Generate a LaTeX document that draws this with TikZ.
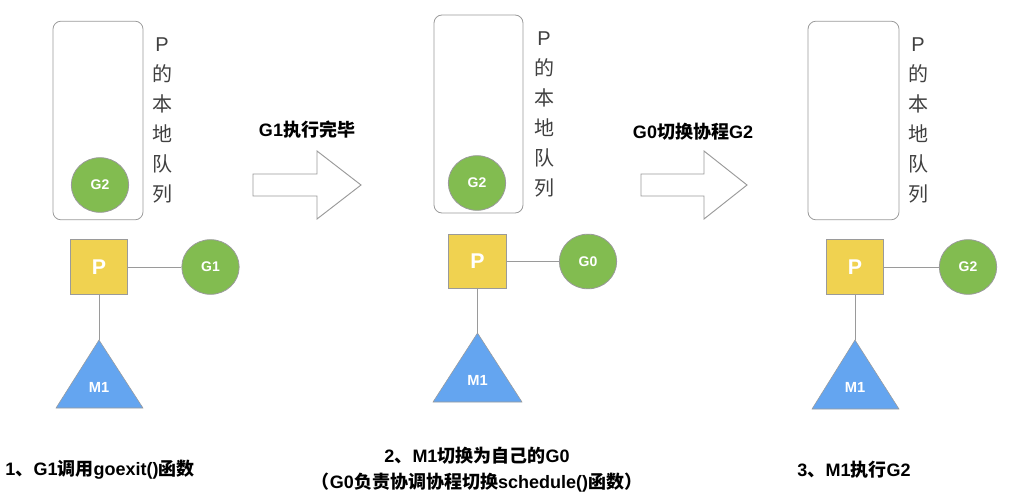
\documentclass[tikz,border=0pt]{standalone}
\usepackage{fontspec}
\setmainfont{Liberation Sans}
\newfontfamily\cjk{Noto Sans CJK SC}
\usetikzlibrary{shapes.geometric}
\definecolor{gnc}{HTML}{82BC50}
\definecolor{pyel}{HTML}{F0D250}
\definecolor{mblue}{HTML}{64A5F0}
\definecolor{edge}{HTML}{9A9A9A}
\begin{document}
\begin{tikzpicture}[x=0.75pt,y=-0.75pt,
  queue/.style={draw=edge, rounded corners=6pt, minimum width=67.5pt, minimum height=149pt, line width=0.6pt, inner sep=0pt},
  gor/.style={ellipse, draw=edge, fill=gnc, minimum width=43pt, minimum height=41pt, inner sep=0pt, text=white, font=\bfseries\fontsize{10.5}{12}\selectfont, line width=0.6pt},
  proc/.style={rectangle, draw=edge, fill=pyel, minimum width=43pt, minimum height=41pt, inner sep=0pt, text=white, font=\bfseries\fontsize{16}{18}\selectfont, line width=0.6pt},
  link/.style={draw=edge, line width=0.7pt},
  mtri/.style={fill=mblue, draw=edge, line width=0.4pt},
  mlabel/.style={text=white, font=\bfseries\fontsize{11}{13}\selectfont},
  bigarrow/.style={draw=edge, fill=white, line width=0.7pt},
  vlabel/.style={align=center, text=black!75, inner sep=0pt, font=\fontsize{15}{22.5}\selectfont},
  caption/.style={align=center, inner sep=0pt, font=\bfseries\fontsize{13.5}{19.5}\selectfont}
]
\useasboundingbox (0,0) rectangle (1010,496);

% ---------- panel 1 ----------
\node[queue] (q1) at (98,120.5) {};
\node[gor] (q1g2) at (100,185) {G2};
\node[vlabel] (v1) at (162,120) {P\\{\cjk 的}\\{\cjk 本}\\{\cjk 地}\\{\cjk 队}\\{\cjk 列}};
\node[proc] (p1) at (99,267) {P};
\node[gor] (g1) at (210.5,267) {G1};
\draw[mtri] (56,408) -- (99,340) -- (143,408) -- cycle;
\coordinate (a1) at (99,340);
\node[mlabel] (m1a) at (99,387) {M1};
\draw[link] (p1) -- (g1);
\draw[link] (p1) -- (a1);

% ---------- arrow 1 ----------
\node[caption] (l1) at (307,130) {G1{\cjk 执行完毕}};
\draw[bigarrow] (253,174) -- (317,174) -- (317,151) -- (361,185) -- (317,219) -- (317,196) -- (253,196) -- cycle;

% ---------- panel 2 ----------
\node[queue, minimum width=66.75pt, minimum height=148.5pt] (q2) at (478.5,114) {};
\node[gor] (q2g2) at (477,183) {G2};
\node[vlabel] (v2) at (544,114) {P\\{\cjk 的}\\{\cjk 本}\\{\cjk 地}\\{\cjk 队}\\{\cjk 列}};
\node[proc] (p2) at (477.5,261.5) {P};
\node[gor] (g0) at (588,261.5) {G0};
\draw[mtri] (433,402) -- (477.5,333) -- (522,402) -- cycle;
\coordinate (a2) at (477.5,333);
\node[mlabel] (m1b) at (477.5,380) {M1};
\draw[link] (p2) -- (g0);
\draw[link] (p2) -- (a2);

% ---------- arrow 2 ----------
\node[caption] (l2) at (693,132) {G0{\cjk 切换协程}G2};
\draw[bigarrow] (641,174) -- (704,174) -- (704,151) -- (747,185) -- (704,219) -- (704,196) -- (641,196) -- cycle;

% ---------- panel 3 ----------
\node[queue, minimum width=68.25pt] (q3) at (853.5,120.5) {};
\node[vlabel] (v3) at (918,120) {P\\{\cjk 的}\\{\cjk 本}\\{\cjk 地}\\{\cjk 队}\\{\cjk 列}};
\node[proc] (p3) at (855,267) {P};
\node[gor] (g2) at (968,267) {G2};
\draw[mtri] (812,409) -- (855,340) -- (899,409) -- cycle;
\coordinate (a3) at (855,340);
\node[mlabel] (m1c) at (855,387) {M1};
\draw[link] (p3) -- (g2);
\draw[link] (p3) -- (a3);

% ---------- captions ----------
\node[caption] (c1) at (100,470) {1{\cjk 、}G1{\cjk 调用}goexit(){\cjk 函数}};
\node[caption] (c2) at (477,470) {2{\cjk 、}M1{\cjk 切换为自己的}G0\\{\cjk （}G0{\cjk 负责协调协程切换}schedule(){\cjk 函数）}};
\node[caption] (c3) at (854,470) {3{\cjk 、}M1{\cjk 执行}G2};
\end{tikzpicture}
\end{document}
